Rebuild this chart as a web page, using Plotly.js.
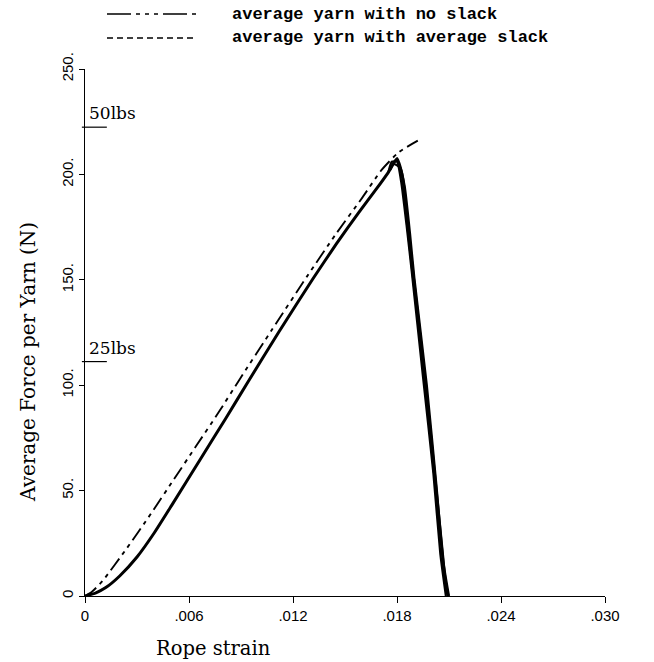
<!DOCTYPE html>
<html><head><meta charset="utf-8">
<script src="https://cdn.plot.ly/plotly-3.0.1.min.js"></script>
<style>html,body{margin:0;padding:0;background:#fff}</style>
</head><body><div id="chart" style="width:654px;height:662px"></div>
<script>
// --- data ---
const noSlackStrain = [0, 0.0004, 0.001, 0.0024, 0.0038, 0.0051, 0.0064, 0.0077, 0.0089, 0.0108, 0.0128, 0.0145, 0.016, 0.0171, 0.0181, 0.0192];
const noSlackForce  = [0, 2, 7, 22.5, 39, 55, 71, 87, 102.5, 126.5, 151.5, 172, 189, 202, 210.5, 216];

const yarnStrain = [0, 0.0006, 0.0012, 0.002, 0.003, 0.004, 0.005, 0.0067, 0.0081, 0.0094, 0.0112, 0.01315, 0.0145, 0.0158, 0.0168, 0.0175, 0.0180, 0.0182, 0.01835, 0.01864, 0.01892, 0.01962, 0.0202, 0.0206, 0.02077, 0.02094];
const yarnForce  = [0, 1.4, 4, 9.5, 18.5, 30, 43, 65.5, 84, 101.5, 125.5, 150.5, 167, 182, 193, 201, 207.5, 203, 197, 174, 153, 102, 55, 22, 8, 0];

const dropBStrain = [0.0175, 0.0177, 0.0180, 0.01825, 0.01855, 0.01885, 0.0195, 0.0201, 0.0205, 0.02082];
const dropBForce  = [201, 206, 206, 196, 176, 154, 104, 58, 20, 0];
const dropCStrain = [0.0176, 0.0178, 0.0182, 0.01845, 0.01875, 0.0190, 0.01972, 0.02028, 0.02068, 0.0210];
const dropCForce  = [202, 205, 203, 194, 172, 151, 100, 52, 16, 0];

const xTickVals = [0, 0.006, 0.012, 0.018, 0.024, 0.030];
const xTickText = ['0', '.006', '.012', '.018', '.024', '.030'];
const yTickVals = [0, 50, 100, 150, 200, 250];
const yTickText = ['0', '50.', '100.', '150.', '200.', '250.'];

const refForces = [222.4, 111.2];
const refLabels = ['50lbs', '25lbs'];

const legendLabels = ['average yarn with no slack', 'average yarn with average slack'];
const legendDashes = ['24px,5px,4px,5px,4px,5px,4px,5px', '6px,4px'];

const xTitle = 'Rope strain';
const yTitle = 'Average Force per Yarn (N)';

const serif = "'DejaVu Serif', serif";

// --- traces ---
const traces = [
  {x: noSlackStrain, y: noSlackForce, mode: 'lines', line: {color: '#000', width: 1.9, dash: '14px,5px,4px,5px,4px,5px', shape: 'spline', smoothing: 0.6}, showlegend: false},
  {x: yarnStrain, y: yarnForce, mode: 'lines', line: {color: '#000', width: 3, shape: 'spline', smoothing: 0.5}, showlegend: false},
  {x: dropBStrain, y: dropBForce, mode: 'lines', line: {color: '#000', width: 2.2, shape: 'spline', smoothing: 0.5}, showlegend: false},
  {x: dropCStrain, y: dropCForce, mode: 'lines', line: {color: '#000', width: 2.2, shape: 'spline', smoothing: 0.5}, showlegend: false}
];

const shapes = [];
const annotations = [];
refForces.forEach((f, i) => {
  shapes.push({type: 'line', xref: 'paper', yref: 'y', x0: -0.006, x1: 0.042, y0: f, y1: f, line: {color: '#000', width: 1.2}});
  annotations.push({xref: 'paper', yref: 'y', x: 0.004, y: f, yshift: 2, text: refLabels[i], showarrow: false, xanchor: 'left', yanchor: 'bottom', font: {family: serif, size: 17, color: '#000'}});
});
legendLabels.forEach((t, i) => {
  const yy = i === 0 ? 14 : 38;
  shapes.push({type: 'line', xref: 'paper', yref: 'paper', x0: (107 - 85) / 520, x1: (196 - 85) / 520, y0: (596 - yy) / 527, y1: (596 - yy) / 527, line: {color: '#000', width: 1.4, dash: legendDashes[i]}});
  annotations.push({xref: 'paper', yref: 'paper', x: (230 - 85) / 520, y: (596 - yy) / 527, text: t, showarrow: false, xanchor: 'left', yanchor: 'middle', font: {family: "'Liberation Mono', monospace", size: 17, color: '#000', weight: 'bold'}});
});
annotations.push({xref: 'paper', yref: 'paper', x: (28 - 85) / 520, y: (596 - 362) / 527, text: yTitle, textangle: -90, showarrow: false, xanchor: 'center', yanchor: 'middle', font: {family: serif, size: 20, color: '#000'}});
annotations.push({xref: 'paper', yref: 'paper', x: (213 - 85) / 520, y: (596 - 648) / 527, text: xTitle, showarrow: false, xanchor: 'center', yanchor: 'middle', font: {family: serif, size: 19.5, color: '#000'}});

const layout = {
  width: 654, height: 662,
  margin: {l: 85, r: 49, t: 69, b: 66},
  paper_bgcolor: '#fff', plot_bgcolor: '#fff',
  showlegend: false,
  xaxis: {range: [0, 0.030], tickvals: xTickVals, ticktext: xTickText, showgrid: false, zeroline: false,
          showline: true, linecolor: '#000', linewidth: 1.3, ticks: 'outside', ticklen: 6, tickcolor: '#000',
          tickfont: {family: "'Liberation Sans', sans-serif", size: 15, color: '#000'}},
  yaxis: {range: [0, 250], tickvals: yTickVals, ticktext: yTickText, showgrid: false, zeroline: false,
          showline: true, linecolor: '#000', linewidth: 1.3, ticks: 'outside', ticklen: 5, tickcolor: '#000',
          tickangle: -90, tickfont: {family: "'Liberation Sans', sans-serif", size: 15, color: '#000'}},
  shapes: shapes,
  annotations: annotations
};

Plotly.newPlot('chart', traces, layout, {displayModeBar: false, staticPlot: true});
</script></body></html>
